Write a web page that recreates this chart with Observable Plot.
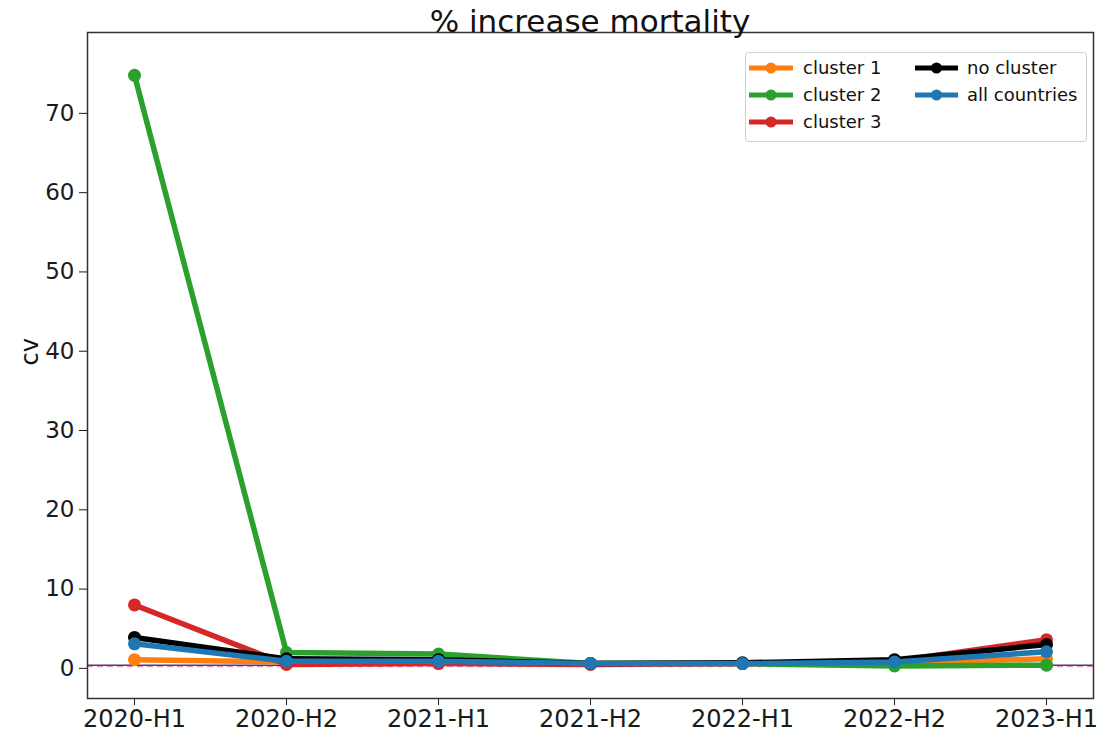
<!DOCTYPE html>
<html><head><meta charset="utf-8">
<script src="https://cdn.jsdelivr.net/npm/d3@7"></script>
<script src="https://cdn.jsdelivr.net/npm/@observablehq/plot@0.6"></script>
<style>
body{margin:0;background:#fff;font-family:"DejaVu Sans",sans-serif;}
#wrap{position:relative;width:1105px;height:738px;overflow:hidden;}
#title{position:relative;height:30px;}
#title span{position:absolute;left:87px;width:1006px;text-align:center;top:3px;line-height:36px;font-size:31px;color:#111;white-space:nowrap;}
#legend{position:absolute;left:745px;top:52px;}
</style></head><body>
<div id="wrap"><div id="title"><span>% increase mortality</span></div><div id="chart"></div><div id="legend"></div></div>
<script>
const periods = ["2020-H1","2020-H2","2021-H1","2021-H2","2022-H1","2022-H2","2023-H1"];
const seriesNames = ["cluster 1","cluster 2","cluster 3","no cluster","all countries"];
const seriesColors = ["#ff7f0e","#2ca02c","#d62728","#000000","#1f77b4"];
const cluster1 = [1.1, 0.8, 0.9, 0.6, 0.6, 0.7, 1.2];
const cluster2 = [74.8, 2.0, 1.8, 0.6, 0.6, 0.3, 0.4];
const cluster3 = [8.0, 0.5, 0.6, 0.5, 0.6, 0.9, 3.6];
const noCluster = [3.9, 1.2, 1.1, 0.6, 0.7, 1.1, 3.0];
const allCountries = [3.1, 0.9, 0.9, 0.6, 0.6, 0.8, 2.1];
const refLine = [0.4];
const yTicks = [0, 10, 20, 30, 40, 50, 60, 70];
const yLabel = "cv";

const seriesValues = [cluster1, cluster2, cluster3, noCluster, allCountries];
const data = seriesNames.flatMap((s, i) => seriesValues[i].map((v, j) => ({series: s, period: periods[j], value: v})));

const seriesMarks = seriesNames.flatMap(s => {
  const rows = data.filter(d => d.series === s);
  return [
    Plot.line(rows, {x: "period", y: "value", stroke: "series", strokeWidth: 5.5}),
    Plot.dot(rows, {x: "period", y: "value", fill: "series", r: 6.5})
  ];
});

const chart = Plot.plot({
  width: 1105, height: 708,
  marginTop: 2, marginBottom: 40, marginLeft: 87, marginRight: 12,
  style: {fontFamily: "DejaVu Sans, sans-serif", fontSize: "23px", color: "#1a1a1a", background: "#fff"},
  x: {type: "point", domain: periods, padding: 0.3, label: null},
  y: {domain: [-3.8, 80.2], label: null},
  color: {domain: seriesNames, range: seriesColors},
  marks: [
    Plot.ruleY(refLine, {stroke: "#4a3f6b", strokeWidth: 1.5}),
    Plot.ruleY(refLine, {stroke: "#e377c2", strokeWidth: 1, strokeDasharray: "6,4", dy: 1.5}),
    ...seriesMarks,
    Plot.axisX({tickSize: 7, tickPadding: 4, fontSize: 24, label: null}),
    Plot.axisY({ticks: yTicks, tickSize: 8, tickPadding: 5, label: null}),
    Plot.frame({stroke: "#333", strokeWidth: 1.5}),
    Plot.text([yLabel], {text: d => d, frameAnchor: "left", dx: -57, rotate: -90, fontSize: 24, fill: "#111"})
  ]
});
document.getElementById("chart").appendChild(chart);

// legend
const lg = d3.select("#legend").append("svg").attr("width", 342).attr("height", 90)
  .style("font-family", "DejaVu Sans, sans-serif");
lg.append("rect").attr("x", 0.5).attr("y", 0.5).attr("width", 341).attr("height", 89).attr("rx", 3)
  .attr("fill", "rgba(255,255,255,0.85)").attr("stroke", "#d0d0d0");
const cols = [{x0: 4, x1: 48, tx: 58}, {x0: 170, x1: 213, tx: 222}];
seriesNames.forEach((s, i) => {
  const c = cols[i < 3 ? 0 : 1];
  const row = i < 3 ? i : i - 3;
  const y = 16 + row * 27;
  const g = lg.append("g");
  g.append("line").attr("x1", c.x0).attr("x2", c.x1).attr("y1", y).attr("y2", y)
    .attr("stroke", seriesColors[i]).attr("stroke-width", 5);
  g.append("circle").attr("cx", (c.x0 + c.x1) / 2).attr("cy", y).attr("r", 5.5).attr("fill", seriesColors[i]);
  g.append("text").attr("x", c.tx).attr("y", y).attr("dy", "0.35em").attr("font-size", 18).attr("fill", "#111").text(s);
});
</script>
</body></html>
